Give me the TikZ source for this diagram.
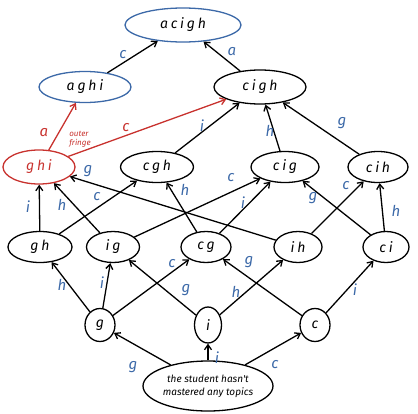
\documentclass[tikz,border=0pt]{standalone}
\usepackage{fontspec}
\usetikzlibrary{shapes.geometric,arrows.meta}
\newfontfamily\statefont{Fira Sans}[LetterSpace=20]
\newfontfamily\lblfont{Fira Sans}
\definecolor{lblblue}{HTML}{3C69A8}
\definecolor{fringered}{HTML}{C8322E}
\tikzset{
  state/.style={ellipse, draw, line width=1.3pt, inner sep=0pt,
    font=\statefont\itshape\fontsize{14}{14}\selectfont},
  knot/.style={state, minimum width=#1, minimum height=31pt},
  circ/.style={state, minimum width=30pt, minimum height=33pt},
  bluestate/.style={draw=lblblue},
  redstate/.style={draw=fringered, text=fringered},
  link/.style={line width=1.3pt, -{Straight Barb[length=5pt,width=7pt]}},
  redlink/.style={link, draw=fringered},
  lbl/.style={text=lblblue, font=\lblfont\itshape\fontsize{15}{15}\selectfont, inner sep=0pt},
  redlbl/.style={lbl, text=fringered},
}
\begin{document}
\begin{tikzpicture}[x=1pt,y=-1pt]
\useasboundingbox (0,0) rectangle (418,413);

% knowledge states, top to bottom
\node[knot=116pt, bluestate, minimum height=34pt] (acigh) at (183,25) {acigh};
\node[knot=92pt, bluestate] (aghi) at (85,87) {aghi};
\node[knot=92pt, minimum height=34pt] (cigh) at (260,87) {cigh};
\node[knot=72pt, redstate, minimum height=34pt] (ghi) at (39,167) {ghi};
\node[knot=73pt] (cgh) at (157,167) {cgh};
\node[knot=68pt] (cig) at (285,167) {cig};
\node[knot=60pt] (cih) at (378,167) {cih};
\node[knot=64pt] (gh) at (40,247) {gh};
\node[knot=53pt] (ig) at (113,247) {ig};
\node[knot=50pt] (cg) at (206,247) {cg};
\node[knot=48pt] (ih) at (298,247) {ih};
\node[knot=46pt] (ci) at (386,247) {ci};
\node[circ] (g) at (100,325) {g};
\node[circ, minimum width=27pt, minimum height=36pt] (i) at (208,325) {i};
\node[circ] (c) at (315,325) {c};
\node[ellipse, draw, line width=1.3pt, inner sep=0pt, minimum width=130pt,
  minimum height=50pt, align=center,
  font=\lblfont\itshape\fontsize{10}{13}\selectfont] (empty) at (208,386)
  {the student hasn't\\mastered any topics};

% transitions: learning one more topic
\draw[link] (aghi) -- (acigh);
\draw[link] (cigh) -- (acigh);
\draw[redlink] (ghi) -- (aghi);
\draw[redlink] (ghi) -- (cigh);
\draw[link] (cgh) -- (cigh);
\draw[link] (cig) -- (cigh);
\draw[link] (cih) -- (cigh);
\draw[link] (gh) -- (ghi);
\draw[link] (ig) -- (ghi);
\draw[link] (ih) -- (ghi);
\draw[link] (gh) -- (cgh);
\draw[link] (cg) -- (cgh);
\draw[link] (ig) -- (cig);
\draw[link] (cg) -- (cig);
\draw[link] (ci) -- (cig);
\draw[link] (ih) -- (cih);
\draw[link] (ci) -- (cih);
\draw[link] (g) -- (gh);
\draw[link] (g) -- (ig);
\draw[link] (g) -- (cg);
\draw[link] (i) -- (ig);
\draw[link] (i) -- (ih);
\draw[link] (c) -- (cg);
\draw[link] (c) -- (ci);
\draw[link] (empty) -- (g);
\draw[link] (empty) -- (i);
\draw[link] (empty) -- (c);

% topic labels on the transitions
\node[lbl] (l1) at (123,55) {c};
\node[lbl] (l2) at (232,52) {a};
\node[redlbl] (l3) at (44,133) {a};
\node[text=fringered, font=\lblfont\itshape\fontsize{8}{8.5}\selectfont,
  align=left, inner sep=0pt] (fringe) at (80,139) {outer\\fringe};
\node[redlbl] (l4) at (126,128) {c};
\node[lbl] (l5) at (202,126) {i};
\node[lbl] (l6) at (270,131) {h};
\node[lbl] (l7) at (342,123) {g};
\node[lbl] (l8) at (28,207) {i};
\node[lbl] (l9) at (62,205) {h};
\node[lbl] (l10) at (88,171) {g};
\node[lbl] (l11) at (97,197) {c};
\node[lbl] (l12) at (185,190) {h};
\node[lbl] (l13) at (231,178) {c};
\node[lbl] (l14) at (243,203) {i};
\node[lbl] (l15) at (313,198) {g};
\node[lbl] (l16) at (346,186) {c};
\node[lbl] (l17) at (396,211) {h};
\node[lbl] (l18) at (62,285) {h};
\node[lbl] (l19) at (102,283) {i};
\node[lbl] (l20) at (172,264) {c};
\node[lbl] (l21) at (186,290) {g};
\node[lbl] (l22) at (236,292) {h};
\node[lbl] (l23) at (249,262) {g};
\node[lbl] (l24) at (355,290) {i};
\node[lbl] (l25) at (133,367) {g};
\node[lbl] (l26) at (217,358) {i};
\node[lbl] (l27) at (275,365) {c};
\end{tikzpicture}
\end{document}
